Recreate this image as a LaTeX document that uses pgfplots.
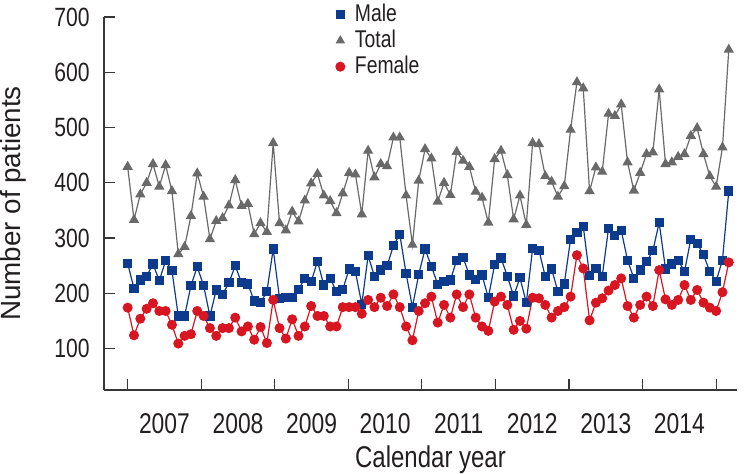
\documentclass[border=0pt]{standalone}
\usepackage{pgfplots}
\pgfplotsset{compat=1.18}
\usepackage{fontspec}
\setmainfont{Liberation Sans}[FakeStretch=0.8]
\newfontfamily\ylabfont{Liberation Sans}
\definecolor{maleblue}{RGB}{12,58,140}
\definecolor{totalgray}{RGB}{105,105,105}
\definecolor{femalered}{RGB}{215,22,34}
\definecolor{axisgray}{RGB}{55,55,55}
\definecolor{txt}{RGB}{35,31,32}
\begin{document}
\begin{tikzpicture}
\useasboundingbox (-52pt,-41.5pt) rectangle (325.5pt,195pt);
\begin{axis}[
  at={(0,0)}, anchor=south west,
  scale only axis, width=316.5pt, height=186.5pt,
  xmin=-3.74, xmax=96.3, ymin=25, ymax=700,
  axis x line*=bottom, axis y line*=left,
  axis line style={axisgray, line width=0.7pt},
  tick style={axisgray, line width=0.6pt},
  major tick length=5.5pt,
  tick align=inside,
  ytick={100,200,...,700},
  xtick={0,11.63,23.25,34.88,46.5,58.13,69.75,81.38,93},
  x tick label as interval,
  xticklabels={2007,2008,2009,2010,2011,2012,2013,2014},
  /pgf/number format/assume math mode=true,
  /pgf/number format/1000 sep={},
  yticklabel style={font=\fontsize{13.2}{14}\selectfont, text=txt, anchor=east, inner sep=0pt, xshift=-7pt},
  xticklabel style={font=\fontsize{14.3}{15}\selectfont, text=txt, anchor=center, inner sep=0pt, yshift=-17pt},
  xlabel={Calendar year},
  ylabel={\ylabfont Number of patients},
  xlabel style={font=\fontsize{15}{16}\selectfont, text=txt, at={([xshift=5pt]axis description cs:0.5,0)}, anchor=center, yshift=-35pt},
  ylabel style={font=\fontsize{13.9}{15}\selectfont, text=txt, at={([xshift=-45.5pt]axis description cs:0,0.5)}, anchor=center},
  legend style={draw=none, fill=none, at={(axis description cs:0.356,1.057)}, anchor=north west,
    font=\fontsize{12.1}{13}\selectfont, text=txt, row sep=-1.2pt, column sep=3pt, nodes={inner sep=2pt}},
  legend cell align=left,
  legend image code/.code={\draw[#1] plot coordinates {(0.1cm,0cm)};},
]
\addlegendimage{only marks, mark=square*, mark size=1.9pt, color=maleblue}
\addlegendentry{Male}
\addlegendimage{only marks, mark=triangle*, mark size=2.3pt, color=totalgray}
\addlegendentry{Total}
\addlegendimage{only marks, mark=*, mark size=2.3pt, color=femalered}
\addlegendentry{Female}

\addplot[totalgray, line width=0.6pt, mark=triangle*, mark size=2.4pt, forget plot] table {
x y
0 429
1 333
2 379
3 400
4 434
5 393
6 432
7 385
8 271
9 284
10 340
11 417
12 375
13 298
14 331
15 336
16 359
17 405
18 358
19 362
20 307
21 327
22 311
23 472
24 327
25 314
26 348
27 330
28 368
29 399
30 416
31 377
32 367
33 345
34 381
35 418
36 415
37 343
38 458
39 410
40 434
41 430
42 482
43 482
44 377
45 288
46 404
47 461
48 444
49 366
50 400
51 378
52 456
53 440
54 429
55 384
56 373
57 328
58 443
59 458
60 414
61 334
62 377
63 324
64 472
65 470
66 412
67 402
68 375
69 394
70 496
71 582
72 571
73 385
74 428
75 420
76 525
77 521
78 542
79 437
80 386
81 418
82 452
83 455
84 569
85 434
86 437
87 447
88 452
89 485
90 499
91 452
92 412
93 393
94 464
95 641
};
\addplot[maleblue, line width=0.6pt, mark=square*, mark size=2pt, forget plot] table {
x y
0 254
1 209
2 224
3 231
4 253
5 223
6 259
7 241
8 159
9 159
10 214
11 248
12 214
13 159
14 206
15 198
16 219
17 250
18 219
19 217
20 186
21 183
22 203
23 280
24 191
25 192
26 192
27 207
28 227
29 221
30 258
31 215
32 227
33 203
34 207
35 244
36 239
37 180
38 268
39 231
40 242
41 250
42 286
43 307
44 236
45 175
46 234
47 280
48 249
49 216
50 221
51 224
52 260
53 265
54 233
55 225
56 233
57 192
58 252
59 264
60 231
61 195
62 228
63 183
64 281
65 278
66 230
67 244
68 203
69 217
70 298
71 310
72 321
73 232
74 245
75 231
76 318
77 304
78 314
79 260
80 227
81 242
82 257
83 277
84 328
85 244
86 253
87 260
88 239
89 298
90 290
91 270
92 239
93 222
94 260
95 385
};
\addplot[femalered, line width=0.6pt, mark=*, mark size=2.2pt, forget plot] table {
x y
0 174
1 124
2 154
3 172
4 182
5 168
6 168
7 143
8 109
9 123
10 126
11 168
12 159
13 137
14 123
15 137
16 137
17 156
18 131
19 140
20 116
21 139
22 110
23 188
24 137
25 118
26 153
27 123
28 140
29 177
30 159
31 159
32 140
33 140
34 175
35 175
36 175
37 163
38 188
39 175
40 192
41 177
42 198
43 175
44 140
45 115
46 168
47 182
48 194
49 147
50 179
51 156
52 198
53 175
54 198
55 156
56 140
57 132
58 185
59 194
60 179
61 134
62 150
63 136
64 192
65 191
66 179
67 156
68 168
69 175
70 194
71 269
72 245
73 151
74 183
75 191
76 205
77 215
78 227
79 177
80 156
81 179
82 194
83 177
84 242
85 189
86 179
87 188
88 215
89 188
90 206
91 183
92 174
93 168
94 202
95 256
};
\end{axis}
\end{tikzpicture}
\end{document}
